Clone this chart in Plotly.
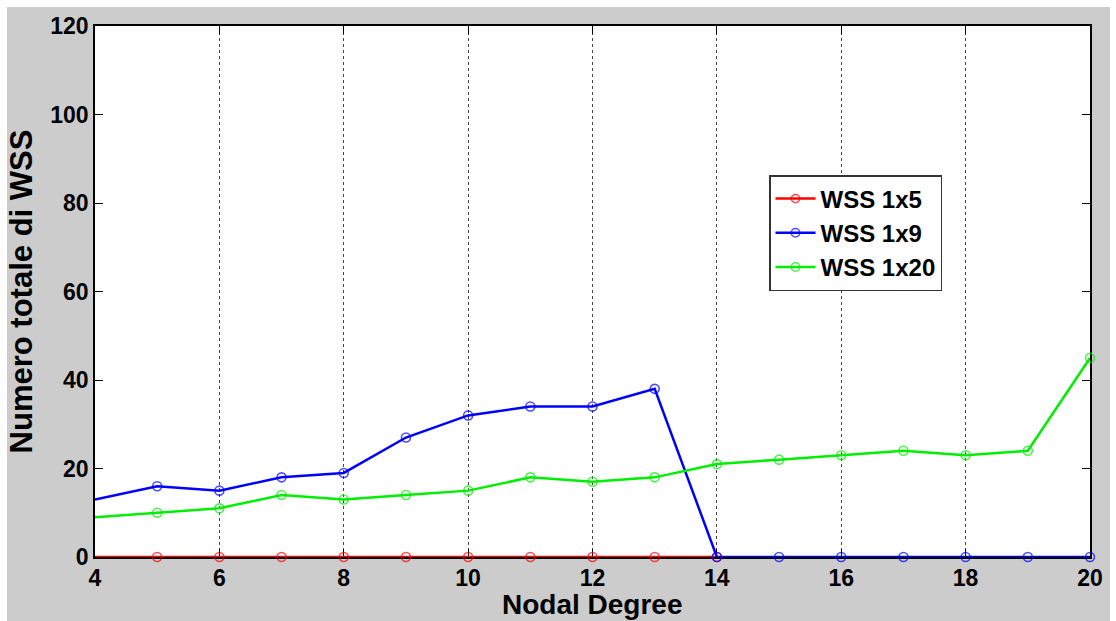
import plotly.graph_objects as go

# Nodal degree values on the x axis
nodal_degree = list(range(4, 21))

# Total number of WSS per configuration
wss_1x5_degree = list(range(4, 15))
wss_1x5 = [0, 0, 0, 0, 0, 0, 0, 0, 0, 0, 0]
wss_1x9 = [13, 16, 15, 18, 19, 27, 32, 34, 34, 38, 0, 0, 0, 0, 0, 0, 0]
wss_1x20 = [9, 10, 11, 14, 13, 14, 15, 18, 17, 18, 21, 22, 23, 24, 23, 24, 45]

x_ticks = list(range(4, 21, 2))
y_ticks = list(range(0, 121, 20))

FONT = "Liberation Sans, Arial, sans-serif"


def sizes(n):
    # the first point sits on the left axis; its marker is not drawn there
    return [0] + [9] * (n - 1)


fig = go.Figure()
series = [
    ("WSS 1x5", wss_1x5_degree, wss_1x5, "#ff0000"),
    ("WSS 1x9", nodal_degree, wss_1x9, "#0000ff"),
    ("WSS 1x20", nodal_degree, wss_1x20, "#00ee00"),
]
for name, xs, ys, color in series:
    fig.add_trace(go.Scatter(
        x=xs, y=ys, name=name, mode="lines+markers",
        line=dict(color=color, width=2.5),
        marker=dict(symbol="circle-open", size=sizes(len(xs)), color=color,
                    line=dict(width=1.6, color=color)),
        cliponaxis=False,
    ))

# grey figure frame and white axes area
fig.add_shape(type="rect", xref="paper", yref="paper",
              x0=(7 - 95) / 995, x1=(1110 - 95) / 995,
              y0=1 + (26 - 640) / 531, y1=1 + (26 - 7) / 531,
              fillcolor="#cccccc", line=dict(width=0), layer="below")
fig.add_shape(type="rect", xref="paper", yref="paper",
              x0=0, x1=1, y0=0, y1=1,
              fillcolor="white", line=dict(width=0), layer="below")

axis_common = dict(
    showline=True, linecolor="black", linewidth=1.5, mirror="ticks",
    ticks="inside", ticklen=8, tickwidth=1, tickcolor="black",
    tickfont=dict(family=FONT, size=23, color="black", weight="bold"),
    zeroline=False, automargin=False, layer="below traces",
)

fig.update_xaxes(
    range=[4, 20], tickvals=x_ticks, ticktext=[str(v) for v in x_ticks],
    showgrid=True, gridcolor="#444444", griddash="dot", gridwidth=1,
    **axis_common,
)
fig.update_yaxes(
    range=[0, 120], tickvals=y_ticks, ticktext=[str(v) for v in y_ticks],
    showgrid=False,
    title=dict(text="Numero totale di WSS", standoff=8,
               font=dict(family=FONT, size=31, color="black", weight="bold")),
    **axis_common,
)

# x-axis title, placed below the tick labels
fig.add_annotation(
    text="Nodal Degree", xref="paper", yref="paper", x=0.5, y=0,
    xanchor="center", yanchor="top", yshift=-30, showarrow=False,
    font=dict(family=FONT, size=28, color="black", weight="bold"),
)

fig.update_layout(
    width=1116, height=621,
    margin=dict(l=95, r=26, t=26, b=64),
    paper_bgcolor="white", plot_bgcolor="rgba(0,0,0,0)",
    showlegend=True,
    legend=dict(
        x=(769 - 95) / 995, y=1 - (175 - 26) / 531,
        xanchor="left", yanchor="top",
        bgcolor="white", bordercolor="#333333", borderwidth=1.5,
        font=dict(family=FONT, size=24, color="black", weight="bold"),
        itemwidth=40, tracegroupgap=0,
    ),
)

fig.write_html("out.html")
